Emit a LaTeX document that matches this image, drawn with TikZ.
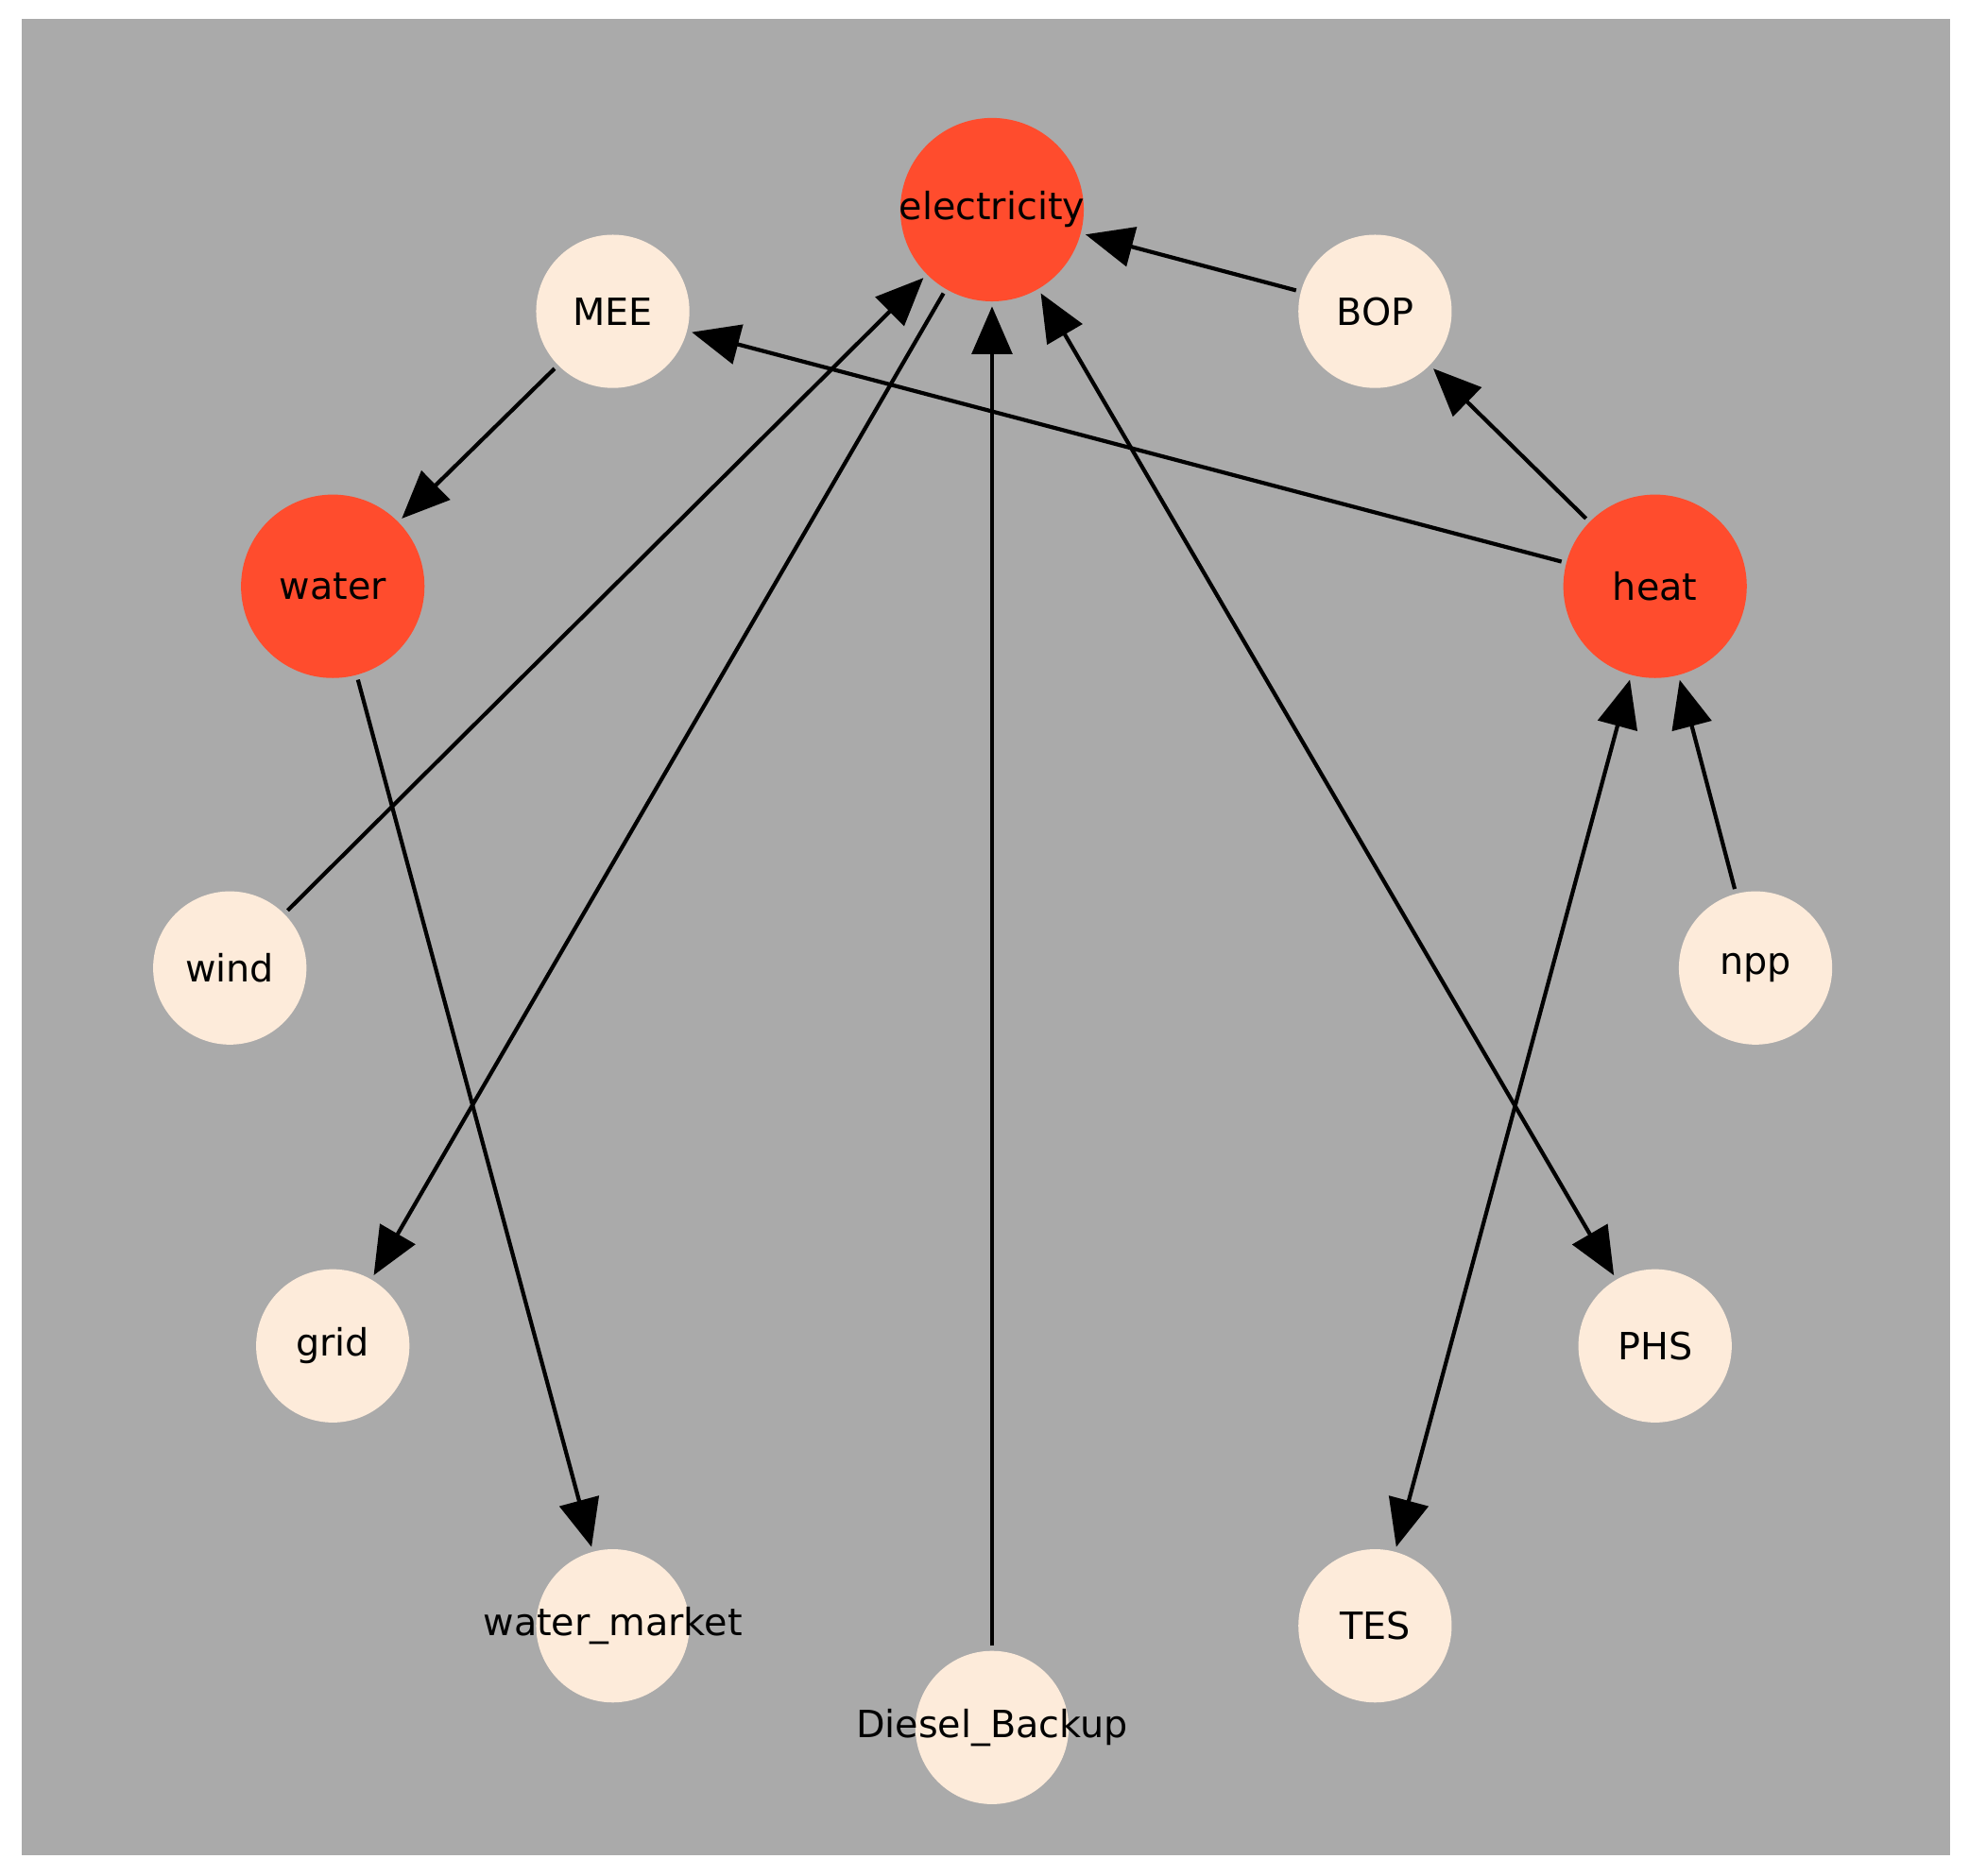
\documentclass[tikz,border=0pt]{standalone}
\usepackage{fontspec}
\setmainfont{DejaVu Sans}
\usetikzlibrary{arrows.meta}
\definecolor{bg}{RGB}{170,170,170}
\definecolor{hot}{RGB}{255,76,45}
\definecolor{cream}{RGB}{253,235,218}
\begin{document}
\begin{tikzpicture}[x=0.01cm,y=-0.01cm,
  base/.style={circle,inner sep=0pt,outer sep=0.04cm,font=\fontsize{8.5}{10}\selectfont},
  small/.style={base,fill=cream,minimum size=1.22cm},
  big/.style={base,fill=hot,minimum size=1.46cm},
  e/.style={line width=0.9pt,-{Triangle[length=0.38cm,width=0.32cm]}},
  ee/.style={line width=0.9pt,{Triangle[length=0.38cm,width=0.32cm]}-{Triangle[length=0.38cm,width=0.32cm]}}]
\useasboundingbox (0,0) rectangle (1568,1494);
\fill[white] (0,0) rectangle (1568,1494);
\fill[bg] (17,15) rectangle (1553,1478);
\node[big] (el) at (790,167) {\makebox[0pt]{electricity}};
\node[small] (mee) at (488,248) {MEE};
\node[small] (bop) at (1095,248) {BOP};
\node[big] (wa) at (265,467) {water};
\node[big] (he) at (1318,467) {heat};
\node[small] (wi) at (183,771) {wind};
\node[small] (np) at (1398,771) {npp};
\node[small] (gr) at (265,1072) {grid};
\node[small] (ph) at (1318,1072) {PHS};
\node[small] (wm) at (488,1295) {\makebox[0pt]{water\_market}};
\node[small] (te) at (1095,1295) {TES};
\node[small] (di) at (790,1376) {\makebox[0pt]{Diesel\_Backup}};
\draw[e] (bop) -- (el);
\draw[e] (he) -- (bop);
\draw[e] (he) -- (mee);
\draw[e] (mee) -- (wa);
\draw[e] (wi) -- (el);
\draw[e] (el) -- (gr);
\draw[e] (di) -- (el);
\draw[ee] (el) -- (ph);
\draw[ee] (he) -- (te);
\draw[e] (np) -- (he);
\draw[e] (wa) -- (wm);
\end{tikzpicture}
\end{document}
